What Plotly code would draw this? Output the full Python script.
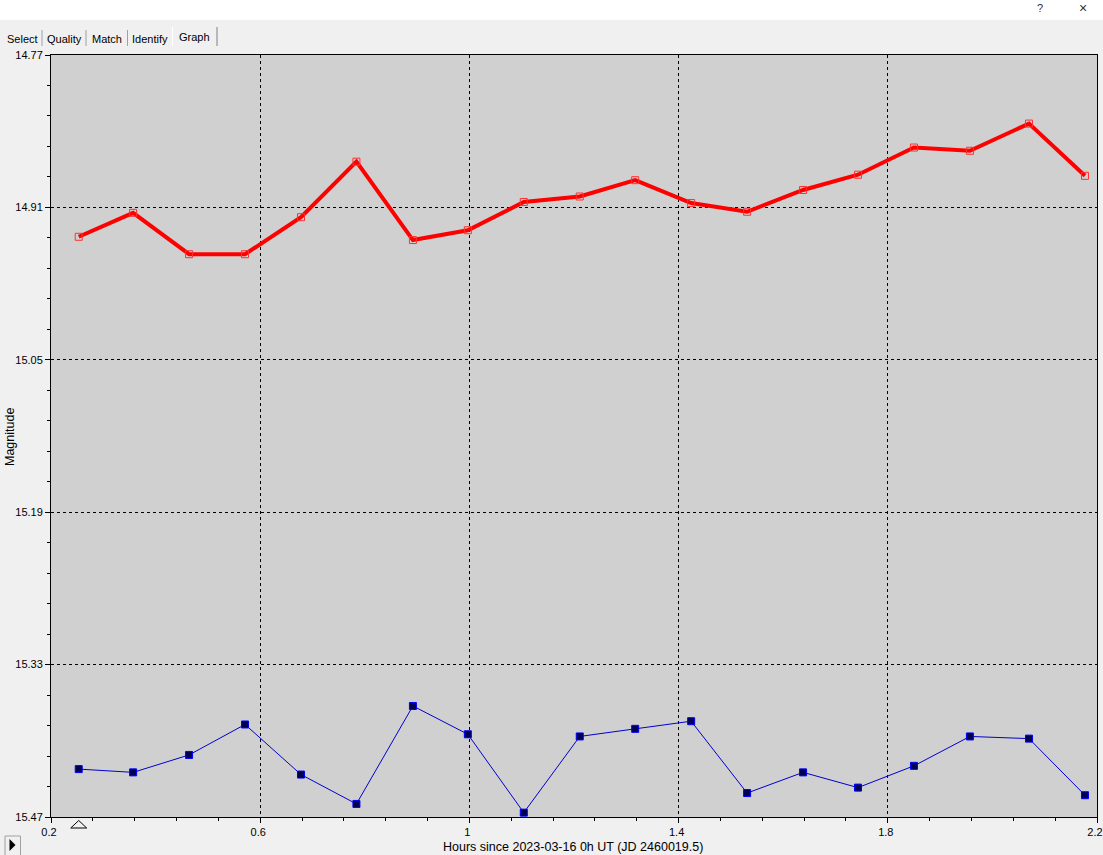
import numpy as np
import plotly.graph_objects as go

# ---- data ----
hours = [0.253, 0.357, 0.464, 0.571, 0.678, 0.784, 0.892, 0.997, 1.104, 1.211,
         1.317, 1.424, 1.531, 1.638, 1.743, 1.850, 1.957, 2.070, 2.177]
mag_red = [14.937, 14.915, 14.953, 14.953, 14.919, 14.868, 14.940, 14.931, 14.905, 14.900,
           14.885, 14.906, 14.914, 14.894, 14.880, 14.855, 14.858, 14.833, 14.881]
mag_blue = [15.426, 15.429, 15.413, 15.385, 15.431, 15.458, 15.368, 15.394, 15.466, 15.396,
            15.389, 15.382, 15.448, 15.429, 15.443, 15.423, 15.396, 15.398, 15.450]

x_range = [0.2, 2.2]
y_range = [14.77, 15.47]
x_ticks = [0.2, 0.6, 1.0, 1.4, 1.8, 2.2]
x_ticktext = ["0.2", "0.6", "1", "1.4", "1.8", "2.2"]
y_ticks = [14.77, 14.91, 15.05, 15.19, 15.33, 15.47]
y_ticktext = ["14.77", "14.91", "15.05", "15.19", "15.33", "15.47"]
tabs = ["Select", "Quality", "Match", "Identify", "Graph"]

x_title = "Hours since 2023-03-16 0h UT (JD 2460019.5)"
y_title = "Magnitude"

# ---- layout geometry ----
W, H = 1103, 855
L, R, T, B = 51, 1097, 55, 817


def px(x):
    return (x - L) / (R - L)


def py(y):
    return (B - y) / (B - T)


FONT = "Liberation Sans, Arial, sans-serif"

x_minor = list(np.round(np.arange(x_range[0], x_range[1] + 1e-9, 0.08), 4))
y_minor = list(np.round(np.arange(y_range[0], y_range[1] + 1e-9, 0.028), 4))

fig = go.Figure()
fig.add_trace(go.Scatter(
    x=hours, y=mag_red, mode="lines+markers",
    line=dict(color="#ff0000", width=4),
    marker=dict(symbol="square-open", size=7, color="#ff3030", line=dict(width=1)),
    hoverinfo="x+y",
))
fig.add_trace(go.Scatter(
    x=hours, y=mag_blue, mode="lines+markers",
    line=dict(color="#0000d0", width=1),
    marker=dict(symbol="square", size=7, color="#000050", line=dict(color="#0000ff", width=1)),
    hoverinfo="x+y",
))

shapes = []
# white title strip
shapes.append(dict(type="rect", xref="paper", yref="paper", x0=px(0), x1=px(W), y0=py(0), y1=py(20),
                   fillcolor="white", line=dict(width=0), layer="below"))
# tab separators
for sx, col in [(42, "#a0a0a0"), (86, "#a0a0a0"), (127.5, "#a0a0a0"), (172.5, "#ffffff"), (217, "#808080")]:
    shapes.append(dict(type="line", xref="paper", yref="paper", x0=px(sx), x1=px(sx),
                       y0=py(30 if col == "#a0a0a0" else 27), y1=py(46), line=dict(color=col, width=1)))
# cursor triangle below axis at first point
tri_w = 0.0153
x0 = hours[0]
shapes.append(dict(type="path", xref="x", yref="paper",
                   path=f"M {x0 - tri_w},{py(828)} L {x0},{py(820.5)} L {x0 + tri_w},{py(828)} Z",
                   line=dict(color="black", width=1), fillcolor="rgba(0,0,0,0)"))
# play button
shapes.append(dict(type="rect", xref="paper", yref="paper", x0=px(5), x1=px(20.5), y0=py(836), y1=py(856),
                   fillcolor="#f0f0f0", line=dict(color="#a0a0a0", width=1)))
shapes.append(dict(type="path", xref="paper", yref="paper",
                   path=f"M {px(9.5)},{py(839)} L {px(9.5)},{py(851)} L {px(15.5)},{py(845)} Z",
                   fillcolor="black", line=dict(color="black", width=0)))

annotations = []
tab_x = [22, 64, 106.5, 150, 194.5]
for i, (t, tx) in enumerate(zip(tabs, tab_x)):
    annotations.append(dict(text=t, xref="paper", yref="paper", x=px(tx), y=py(38.5 if i < 4 else 36.8),
                            showarrow=False, xanchor="center", yanchor="middle",
                            font=dict(family=FONT, size=11, color="black")))
annotations.append(dict(text="?", xref="paper", yref="paper", x=px(1040), y=py(8), showarrow=False,
                        xanchor="center", yanchor="middle", font=dict(family=FONT, size=11, color="#333")))
annotations.append(dict(text="×", xref="paper", yref="paper", x=px(1083), y=py(8), showarrow=False,
                        xanchor="center", yanchor="middle", font=dict(family=FONT, size=14, color="#333")))
annotations.append(dict(text=x_title, xref="paper", yref="paper", x=px(573), y=py(847), showarrow=False,
                        xanchor="center", yanchor="middle", font=dict(family=FONT, size=12.5, color="black")))
annotations.append(dict(text=y_title, xref="paper", yref="paper", x=px(10), y=py(437), showarrow=False,
                        textangle=-90, xanchor="center", yanchor="middle",
                        font=dict(family=FONT, size=12.5, color="black")))

axis_common = dict(
    showline=True, linecolor="black", linewidth=1, mirror=True,
    showgrid=True, gridcolor="black", gridwidth=1, griddash="3px,3px",
    zeroline=False, ticks="outside", ticklen=5, tickcolor="black", tickwidth=1,
    tickfont=dict(family=FONT, size=11, color="black"),
    ticklabeloverflow="allow", automargin=False,
)

fig.update_layout(
    width=W, height=H, autosize=False,
    margin=dict(l=L, r=W - R, t=T, b=H - B, pad=0, autoexpand=False),
    paper_bgcolor="#f0f0f0", plot_bgcolor="#d0d0d0",
    showlegend=False,
    shapes=shapes, annotations=annotations,
    xaxis=dict(range=x_range, tickmode="array", tickvals=x_ticks, ticktext=x_ticktext,
               ticklabelshift=-2,
               minor=dict(tickmode="array", tickvals=x_minor, ticks="outside", ticklen=3,
                          tickcolor="black", showgrid=False),
               **axis_common),
    yaxis=dict(range=y_range[::-1], tickmode="array", tickvals=y_ticks, ticktext=y_ticktext,
               minor=dict(tickmode="array", tickvals=y_minor, ticks="outside", ticklen=3,
                          tickcolor="black", showgrid=False),
               **axis_common),
)

fig.write_html("out.html", config={"displayModeBar": False},
               post_script="document.body.style.margin='0';document.body.style.overflow='hidden';")
